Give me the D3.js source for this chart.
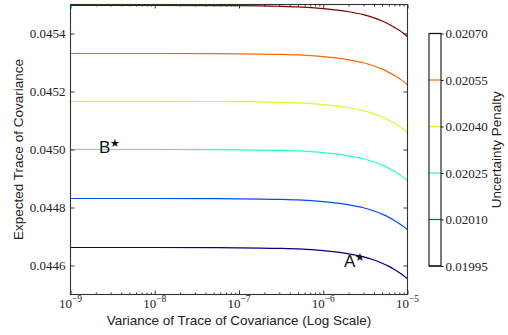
<!DOCTYPE html>
<html><head><meta charset="utf-8">
<script src="https://cdn.jsdelivr.net/npm/d3@7"></script>
<style>
html,body{margin:0;padding:0;background:#fff;}
svg text{fill:#222;}
</style></head>
<body><svg id="c" width="508" height="335"></svg>
<script>
// ---- data ----
const variances = [1e-9, 1e-8, 1e-7, 3e-7, 5e-7, 1e-6, 2e-6, 3e-6, 4e-6, 5e-6, 6e-6, 7e-6, 8e-6, 9e-6, 1e-5];
const penalties = [0.01995, 0.02010, 0.02025, 0.02040, 0.02055, 0.02070];
const seriesP01995 = [0.044662,0.044662,0.044661,0.044659,0.044657,0.044651,0.044640,0.044630,0.044619,0.044608,0.044597,0.044586,0.044575,0.044565,0.044554];
const seriesP02010 = [0.044831,0.044831,0.044830,0.044828,0.044826,0.044820,0.044809,0.044799,0.044788,0.044777,0.044766,0.044755,0.044744,0.044734,0.044723];
const seriesP02025 = [0.045000,0.045000,0.044999,0.044997,0.044995,0.044989,0.044978,0.044968,0.044957,0.044946,0.044935,0.044924,0.044914,0.044903,0.044892];
const seriesP02040 = [0.045166,0.045166,0.045165,0.045163,0.045161,0.045155,0.045144,0.045134,0.045123,0.045112,0.045101,0.045090,0.045080,0.045069,0.045058];
const seriesP02055 = [0.045331,0.045331,0.045330,0.045328,0.045326,0.045320,0.045309,0.045299,0.045288,0.045277,0.045266,0.045255,0.045245,0.045234,0.045223];
const seriesP02070 = [0.045497,0.045497,0.045496,0.045494,0.045492,0.045486,0.045475,0.045465,0.045454,0.045443,0.045432,0.045421,0.045411,0.045400,0.045389];
const allSeries = [seriesP01995, seriesP02010, seriesP02025, seriesP02040, seriesP02055, seriesP02070];
const seriesColors = ["#00007f", "#004dff", "#29ffce", "#ceff29", "#ff6800", "#7f0000"];
const xTickExponents = [-9, -8, -7, -6, -5];
const yTickValues = [0.0446, 0.0448, 0.0450, 0.0452, 0.0454];
const cbTickLabels = ["0.01995", "0.02010", "0.02025", "0.02040", "0.02055", "0.02070"];
const annotLabels = ["A", "B"];
const annotX = [1.76e-6, 2.18e-9];
const annotY = [0.044596, 0.044988];

// ---- layout ----
const L = 70.5, R = 407.5, T = 4.5, B = 294.5;
const svg = d3.select("#c");
const x = d3.scaleLog().domain([1e-9, 1e-5]).range([L, R]);
const y = d3.scaleLinear().domain([0.0445, 0.0455]).range([B, T]);
const serif = "'Liberation Serif', 'Times New Roman', serif";
const sans = "'Liberation Sans', Arial, sans-serif";

// clip
svg.append("clipPath").attr("id", "pc").append("rect")
  .attr("x", L).attr("y", T).attr("width", R - L).attr("height", B - T);

// lines
const line = d3.line().x(d => x(d[0])).y(d => y(d[1])).curve(d3.curveMonotoneX);
const gl = svg.append("g").attr("clip-path", "url(#pc)");
allSeries.forEach((s, i) => {
  gl.append("path").datum(variances.map((v, j) => [v, s[j]]))
    .attr("d", line).attr("fill", "none")
    .attr("stroke", seriesColors[i]).attr("stroke-width", 1.2);
});

// minor ticks
const minor = [];
for (let e = -9; e < -5; e++) for (let k = 2; k <= 9; k++) minor.push(k * Math.pow(10, e));
const majorX = xTickExponents.map(e => Math.pow(10, e));

function styleAxis(g) {
  g.selectAll(".domain").remove();
  g.selectAll("line").attr("stroke", "#222").attr("stroke-width", 0.9);
}
svg.append("g").attr("transform", `translate(0,${B})`)
  .call(d3.axisBottom(x).tickValues(minor).tickSize(-2).tickFormat("")).call(styleAxis);
svg.append("g").attr("transform", `translate(0,${T})`)
  .call(d3.axisTop(x).tickValues(minor).tickSize(-2).tickFormat("")).call(styleAxis);
svg.append("g").attr("transform", `translate(0,${B})`)
  .call(d3.axisBottom(x).tickValues(majorX).tickSize(-4).tickFormat("")).call(styleAxis);
svg.append("g").attr("transform", `translate(0,${T})`)
  .call(d3.axisTop(x).tickValues(majorX).tickSize(-4).tickFormat("")).call(styleAxis);
svg.append("g").attr("transform", `translate(${L},0)`)
  .call(d3.axisLeft(y).tickValues(yTickValues).tickSize(-4).tickFormat("")).call(styleAxis);
svg.append("g").attr("transform", `translate(${R},0)`)
  .call(d3.axisRight(y).tickValues(yTickValues).tickSize(-4).tickFormat("")).call(styleAxis);

// frame
svg.append("rect").attr("x", L).attr("y", T).attr("width", R - L).attr("height", B - T)
  .attr("fill", "none").attr("stroke", "#333").attr("stroke-width", 1.1);

// y tick labels
svg.append("g").selectAll("text").data(yTickValues).join("text")
  .attr("x", L - 5).attr("y", d => y(d)).attr("dy", "0.33em")
  .attr("text-anchor", "end").attr("font-family", serif).attr("font-size", 13)
  .text(d => d3.format(".4f")(d));

// x tick labels 10^e
const xl = svg.append("g").selectAll("text").data(xTickExponents).join("text")
  .attr("x", d => x(Math.pow(10, d))).attr("y", B + 13.5)
  .attr("text-anchor", "middle").attr("font-family", serif).attr("font-size", 13);
xl.append("tspan").text("10");
xl.append("tspan").attr("dy", -6).attr("font-size", 9.5).text(d => "\u2212" + Math.abs(d));

// axis titles
svg.append("text").attr("x", (L + R) / 2).attr("y", 325).attr("text-anchor", "middle")
  .attr("font-family", sans).attr("font-size", 13.5)
  .text("Variance of Trace of Covariance (Log Scale)");
svg.append("text").attr("transform", `translate(23,${(T + B) / 2}) rotate(-90)`)
  .attr("text-anchor", "middle").attr("font-family", sans).attr("font-size", 13.5)
  .text("Expected Trace of Covariance");

// annotations
annotLabels.forEach((lab, i) => {
  const t = svg.append("text").attr("x", x(annotX[i])).attr("y", y(annotY[i]))
    .attr("font-family", sans).attr("font-size", 17).style("fill", "#111");
  t.append("tspan").text(lab);
  t.append("tspan").attr("dy", -6).attr("dx", -0.5).attr("font-family", "'DejaVu Sans', sans-serif")
    .attr("font-size", 11.5).text("\u2605");
});

// colorbar
const cbL = 429, cbR = 441, cbT = 33.5, cbB = 266;
const cy = d3.scaleLinear().domain([0.01995, 0.02070]).range([cbB, cbT]);
svg.append("rect").attr("x", cbL).attr("y", cbT).attr("width", cbR - cbL).attr("height", cbB - cbT)
  .attr("fill", "#fff");
svg.append("g").selectAll("line").data(penalties).join("line")
  .attr("x1", cbL).attr("x2", cbR).attr("y1", d => cy(d)).attr("y2", d => cy(d))
  .attr("stroke", (d, i) => seriesColors[i]).attr("stroke-width", 1.2);
svg.append("rect").attr("x", cbL).attr("y", cbT).attr("width", cbR - cbL).attr("height", cbB - cbT)
  .attr("fill", "none").attr("stroke", "#111").attr("stroke-width", 1.1);
const cbAxis = svg.append("g").attr("transform", `translate(${cbR},0)`)
  .call(d3.axisRight(cy).tickValues(penalties).tickSize(2.5).tickPadding(2)
    .tickFormat((d, i) => cbTickLabels[i]));
cbAxis.select(".domain").remove();
cbAxis.selectAll("line").attr("stroke", "#111");
cbAxis.selectAll("text").attr("font-family", serif).attr("font-size", 13).style("fill", "#222");
svg.append("text").attr("transform", `translate(501,${(cbT + cbB) / 2}) rotate(-90)`)
  .attr("text-anchor", "middle").attr("font-family", sans).attr("font-size", 13.5)
  .text("Uncertainty Penalty");
</script></body></html>
